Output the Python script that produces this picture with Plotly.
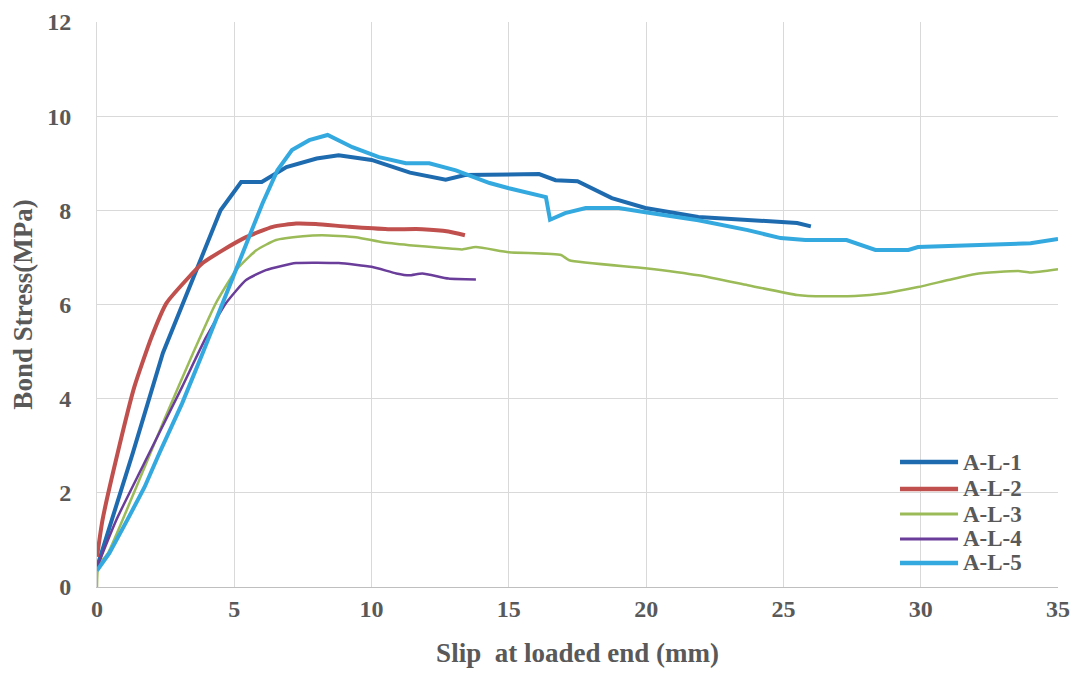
import plotly.graph_objects as go

# A-L-1
x1 = [0, 1.3, 2.4, 3.85, 4.5, 5.25, 6.0, 6.9, 8.0, 8.8, 10.0, 11.4, 12.45, 12.7, 13.4, 14.3, 16.1, 16.7, 17.5, 18.75, 19.97, 21.9, 23.7, 24.9, 25.5, 26.0]
y1 = [0.42, 2.84, 4.97, 7.1, 8.0, 8.6, 8.6, 8.92, 9.1, 9.17, 9.07, 8.8, 8.68, 8.65, 8.75, 8.75, 8.77, 8.64, 8.62, 8.26, 8.05, 7.86, 7.79, 7.75, 7.73, 7.66]
# A-L-2
x2 = [0, 0.2, 0.75, 1.36, 1.98, 2.53, 3.25, 3.85, 4.57, 5.43, 6.4, 7.25, 7.97, 9.18, 10.6, 11.85, 12.8, 13.4]
y2 = [0.64, 1.42, 2.84, 4.25, 5.3, 6.03, 6.52, 6.88, 7.15, 7.43, 7.65, 7.72, 7.71, 7.65, 7.6, 7.6, 7.55, 7.47]
# A-L-3
x3 = [0, 0.05, 0.4, 1.43, 2.45, 3.5, 4.33, 5.07, 5.8, 6.52, 7.5, 8.2, 9.43, 10.4, 11.37, 12.6, 13.3, 13.8, 15.0, 16.9, 17.2, 19.97, 21.9, 23.7, 25.5, 25.9, 27.6, 28.7, 29.9, 31.0, 32.0, 33.55, 34.0, 35.0]
y3 = [0.0, 0.45, 0.72, 2.12, 3.55, 4.97, 6.03, 6.73, 7.15, 7.37, 7.45, 7.47, 7.43, 7.32, 7.26, 7.2, 7.17, 7.22, 7.11, 7.05, 6.94, 6.77, 6.62, 6.41, 6.2, 6.18, 6.18, 6.24, 6.37, 6.52, 6.65, 6.71, 6.68, 6.75]
# A-L-4
x4 = [0, 0.7, 1.9, 3.1, 3.97, 4.7, 5.43, 6.15, 7.25, 8.8, 10.0, 10.9, 11.37, 11.85, 12.8, 13.8]
y4 = [0.42, 1.42, 2.84, 4.25, 5.3, 6.03, 6.52, 6.73, 6.88, 6.88, 6.8, 6.66, 6.62, 6.66, 6.55, 6.53]
# A-L-5
x5 = [0, 0.45, 1.1, 1.73, 2.27, 3.1, 3.85, 4.57, 5.3, 6.03, 6.57, 7.1, 7.73, 8.4, 9.3, 10.27, 11.25, 12.1, 13.07, 14.3, 15.0, 16.35, 16.5, 17.05, 17.8, 19.0, 19.97, 21.9, 23.7, 24.9, 25.8, 27.3, 28.35, 29.55, 29.9, 31.85, 34.0, 35.0]
y5 = [0.35, 0.72, 1.42, 2.12, 2.84, 3.9, 4.97, 6.03, 7.09, 8.15, 8.85, 9.28, 9.49, 9.6, 9.34, 9.13, 9.0, 9.0, 8.85, 8.58, 8.47, 8.28, 7.8, 7.94, 8.05, 8.05, 7.96, 7.79, 7.58, 7.41, 7.37, 7.37, 7.16, 7.16, 7.22, 7.26, 7.3, 7.39]

names = ["A-L-1", "A-L-2", "A-L-3", "A-L-4", "A-L-5"]
xs = [x1, x2, x3, x4, x5]
ys = [y1, y2, y3, y4, y5]
colors = ["#1F6BB0", "#C0504D", "#9BBB59", "#6A3D9A", "#33A9DF"]
widths = [4, 4, 2.5, 2.5, 4]
shapes_ = ["linear", "spline", "spline", "spline", "linear"]

fig = go.Figure()
for n, x, y, c, w, s in zip(names, xs, ys, colors, widths, shapes_):
    fig.add_trace(go.Scatter(x=x, y=y, name=n, mode="lines", showlegend=False,
                             line=dict(color=c, width=w, shape=s, smoothing=0.5)))

# manual legend (paper coordinates)
leg_x0, leg_x1, leg_tx = 0.8356, 0.896, 0.899
leg_y = [0.2212, 0.1735, 0.1292, 0.0850, 0.0425]
for n, c, w, yy in zip(names, colors, widths, leg_y):
    fig.add_shape(type="line", xref="paper", yref="paper", x0=leg_x0, x1=leg_x1,
                  y0=yy, y1=yy, line=dict(color=c, width=w + 0.5))
    fig.add_annotation(xref="paper", yref="paper", x=leg_tx, y=yy, text="<b>" + n + "</b>",
                       showarrow=False, xanchor="left", yanchor="middle",
                       font=dict(family="Liberation Serif", size=23, color="#595959"))

font_tick = dict(family="Liberation Serif", size=24, color="#595959")
title_font = dict(family="Liberation Serif", size=27, color="#595959")
fig.update_layout(
    width=1073, height=669,
    margin=dict(l=89, r=23, t=14, b=90, autoexpand=False),
    paper_bgcolor="white", plot_bgcolor="white",
    font=dict(family="Liberation Serif", color="#595959"),
    xaxis=dict(range=[0, 35], dtick=5, showgrid=True, gridcolor="#D9D9D9",
               gridwidth=1, showline=True, linecolor="#BFBFBF", zeroline=False,
               tickfont=font_tick, ticks="", automargin=False,
               tickprefix="<b>", ticksuffix="</b>", ticklabelstandoff=0,
               title=dict(text="<b>Slip&nbsp;&nbsp;at loaded end (mm)</b>",
                          font=title_font, standoff=22)),
    yaxis=dict(range=[0, 12], dtick=2, showgrid=True, gridcolor="#D9D9D9",
               gridwidth=1, showline=True, linecolor="#D9D9D9", zeroline=False,
               tickfont=font_tick, ticks="", automargin=False,
               tickprefix="<b>", ticksuffix="</b>", ticklabelstandoff=20,
               title=dict(text="<b>Bond Stress(MPa)</b>",
                          font=title_font, standoff=14)),
    showlegend=False,
)
fig.write_html("out.html")
